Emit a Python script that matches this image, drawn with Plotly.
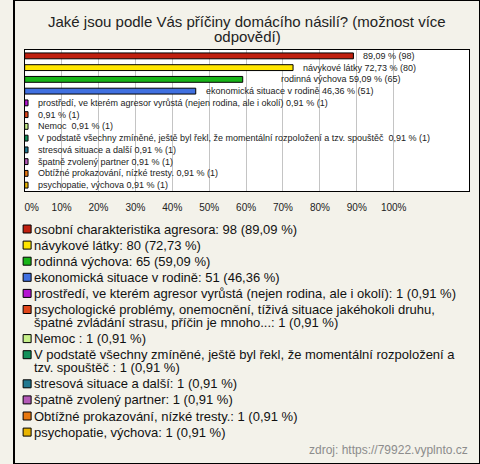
import plotly.graph_objects as go

# ---------------- data ----------------
categories = [
    "osobní charakteristika agresora",
    "návykové látky",
    "rodinná výchova",
    "ekonomická situace v rodině",
    "prostředí, ve kterém agresor vyrůstá (nejen rodina, ale i okolí)",
    "psychologické problémy, onemocnění, tíživá situace jakéhokoli druhu,\nšpatné zvládání strasu, příčin je mnoho...",
    "Nemoc ",
    "V podstatě všechny zmíněné, ještě byl řekl, že momentální rozpoložení a\ntzv. spouštěč ",
    "stresová situace a další",
    "špatně zvolený partner",
    "Obtížné prokazování, nízké tresty.",
    "psychopatie, výchova",
]
counts = [98, 80, 65, 51, 1, 1, 1, 1, 1, 1, 1, 1]
percents = [89.09, 72.73, 59.09, 46.36, 0.91, 0.91, 0.91, 0.91, 0.91, 0.91, 0.91, 0.91]
name_on_bar = [False, True, True, True, True, False, True, True, True, True, True, True]
tick_values = [0, 10, 20, 30, 40, 50, 60, 70, 80, 90, 100]

title_lines = ["Jaké jsou podle Vás příčiny domácího násilí? (možnost více", "odpovědí)"]
source_text = "zdroj: https://79922.vyplnto.cz"

# ---------------- style ----------------
colors = ["#c0200f", "#ffe600", "#18b418", "#4070e0", "#b414d2", "#e0461a",
          "#c6f08a", "#12905a", "#217890", "#b45ab8", "#e8780f", "#e8b400"]
label_shift = [8, 8, 36, 8, 8, 8, 8, 8, 8, 8, 8, 8]
FONT = "Liberation Sans, Arial, sans-serif"
W, H = 480, 464
PLOT_L, PLOT_R, PLOT_T, PLOT_B = 11, 469, 50, 191
LEG_TOP, LEG_PITCH, LEG_WRAP = 229, 16.1, 13


def fmt(p):
    return f"{p:.2f}".replace(".", ",")


idx = list(range(len(categories)))

fig = go.Figure()
fig.add_trace(go.Bar(
    x=percents, y=idx, orientation="h", width=0.5,
    marker=dict(color=colors, line=dict(color="black", width=1)),
    hoverinfo="skip", xaxis="x", yaxis="y", showlegend=False,
))

annotations = []
for i, (name, p, c) in enumerate(zip(categories, percents, counts)):
    txt = f"{fmt(p)} % ({c})"
    if name_on_bar[i]:
        txt = name.replace("\n", " ") + " " + txt
    annotations.append(dict(
        x=p, y=i, xref="x", yref="y", text=txt, showarrow=False,
        xanchor="left", yanchor="middle", xshift=label_shift[i],
        font=dict(family=FONT, size=9, color="#222222"),
    ))

# legend built on a pixel-unit helper axis
leg_x, leg_y, leg_c = [], [], []
y = LEG_TOP
for i, (name, p, c) in enumerate(zip(categories, percents, counts)):
    full = f"{name}: {c} ({fmt(p)} %)"
    lines = full.split("\n")
    leg_x.append(13.5)
    leg_y.append(y)
    leg_c.append(colors[i])
    for k, ln in enumerate(lines):
        annotations.append(dict(
            x=19, y=y + k * LEG_WRAP, xref="x2", yref="y2", text=ln,
            showarrow=False, xanchor="left", yanchor="middle",
            font=dict(family=FONT, size=13, color="#111111"),
        ))
    y += (len(lines) - 1) * LEG_WRAP + LEG_PITCH

fig.add_trace(go.Scatter(
    x=leg_x, y=leg_y, mode="markers", xaxis="x2", yaxis="y2",
    marker=dict(symbol="square", size=8, color=leg_c, line=dict(color="black", width=1)),
    hoverinfo="skip", showlegend=False,
))

# title lines
for k, t in enumerate(title_lines):
    annotations.append(dict(
        x=W / 2, y=21 + 15 * k, xref="x2", yref="y2", text=t, showarrow=False,
        xanchor="center", yanchor="middle",
        font=dict(family=FONT, size=15, color="#222222"),
    ))

annotations.append(dict(
    x=470, y=450, xref="x2", yref="y2", text=source_text, showarrow=False,
    xanchor="right", yanchor="middle",
    font=dict(family=FONT, size=12, color="#8c8c8c"),
))

ticktext = [f"{v}%" for v in tick_values]
ticktext[0] = "\u00a0" * 5 + ticktext[0]

fig.update_layout(
    width=W, height=H,
    margin=dict(l=0, r=0, t=0, b=0),
    paper_bgcolor="#f3f2ea",
    plot_bgcolor="rgba(0,0,0,0)",
    font=dict(family=FONT, color="#222222"),
    showlegend=False,
    bargap=0.5,
    xaxis=dict(
        domain=[PLOT_L / W, PLOT_R / W], range=[0, 120.5], anchor="y",
        tickvals=tick_values, ticktext=ticktext, ticks="",
        ticklabeloverflow="allow", ticklabelstandoff=7,
        showgrid=True, gridcolor="#c4c4c4", gridwidth=1, zeroline=False,
        showline=True, mirror=True, linecolor="black", linewidth=1,
        tickfont=dict(family=FONT, size=10, color="#222222"),
        fixedrange=True,
    ),
    yaxis=dict(
        domain=[1 - PLOT_B / H, 1 - PLOT_T / H], range=[len(idx) - 0.5, -0.5], anchor="x",
        showticklabels=False, showgrid=False, zeroline=False, ticks="",
        showline=True, mirror=True, linecolor="black", linewidth=1,
        fixedrange=True,
    ),
    xaxis2=dict(domain=[0, 1], range=[0, W], anchor="y2", visible=False, fixedrange=True),
    yaxis2=dict(domain=[0, 1], range=[H, 0], anchor="x2", visible=False, fixedrange=True),
    annotations=annotations,
    shapes=[
        dict(type="rect", xref="x domain", yref="y domain", x0=0, x1=1, y0=0, y1=1,
             fillcolor="white", line=dict(width=0), layer="below"),
        dict(type="rect", xref="paper", yref="paper", x0=0, x1=1, y0=0, y1=1,
             fillcolor="rgba(0,0,0,0)", line=dict(color="black", width=2), layer="above"),
    ],
)

fig.write_html(
    "out.html",
    config={"displayModeBar": False},
    post_script="document.body.style.margin='0';document.body.style.overflow='hidden';",
)
